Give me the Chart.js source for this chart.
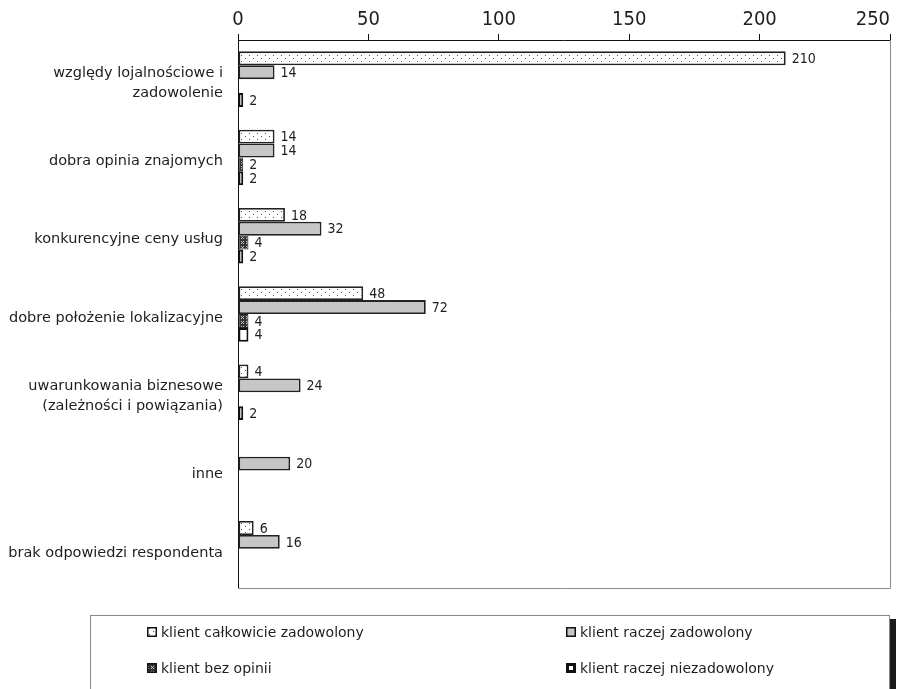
<!DOCTYPE html>
<html lang="pl">
<head>
<meta charset="utf-8">
<title>Powody wyboru</title>
<script src="https://cdn.jsdelivr.net/npm/chart.js@4/dist/chart.umd.min.js"></script>
<style>
  html, body { margin: 0; padding: 0; background: #fff; }
  #wrap { position: relative; width: 911px; height: 689px; }
</style>
</head>
<body>
<div id="wrap"><canvas id="chart"></canvas></div>
<script>
// --- dane ---
const kategorie = [
    ['względy lojalnościowe i', 'zadowolenie'],
    'dobra opinia znajomych',
    'konkurencyjne ceny usług',
    'dobre położenie lokalizacyjne',
    ['uwarunkowania biznesowe', '(zależności i powiązania)'],
    'inne',
    'brak odpowiedzi respondenta'
];
const serie = [
    'klient całkowicie zadowolony',
    'klient raczej zadowolony',
    'klient bez opinii',
    'klient raczej niezadowolony'
];
// null = brak słupka
const calkowicieZadowolony = [210, 14, 18, 48, 4, null, 6];
const raczejZadowolony = [14, 14, 32, 72, 24, 20, 16];
const bezOpinii = [null, 2, 4, 4, null, null, null];
const raczejNiezadowolony = [2, 2, 2, 4, 2, null, null];
const osX = [0, 50, 100, 150, 200, 250];

const FONT_C = '"DejaVu Sans Condensed", "DejaVu Sans", sans-serif';
const FONT = '"DejaVu Sans", sans-serif';
const TEXT = '#1e1e1e';

// wzory wypełnienia
function makePattern(w, h, draw) {
    const c = document.createElement('canvas');
    c.width = w; c.height = h;
    const g = c.getContext('2d');
    draw(g);
    return g.createPattern(c, 'repeat');
}
const wzorKropki = makePattern(8, 6, g => {
    g.fillStyle = '#fff'; g.fillRect(0, 0, 8, 6);
    g.fillStyle = '#555';
    g.fillRect(1, 1, 1, 1);
    g.fillRect(5, 4, 1, 1);
});
const wzorKrzyzyk = makePattern(5, 5, g => {
    g.fillStyle = '#333'; g.fillRect(0, 0, 5, 5);
    g.fillStyle = '#c8c8c8';
    g.fillRect(1, 1, 1, 1); g.fillRect(3, 3, 1, 1);
    g.fillRect(1, 3, 1, 1); g.fillRect(3, 1, 1, 1);
    g.fillRect(2, 2, 1, 1);
});

const kolory = [wzorKropki, '#c6c6c6', wzorKrzyzyk, '#ffffff'];
const obramowania = ['#222', '#222', '#222', '#111'];
const grubosci = [1.8, 1.8, 1, 2];
const wartosci = [calkowicieZadowolony, raczejZadowolony, bezOpinii, raczejNiezadowolony];

// etykiety wartości przy słupkach
const etykietyPlugin = {
    id: 'etykiety',
    afterDatasetsDraw(chart) {
        const ctx = chart.ctx;
        ctx.save();
        ctx.font = '14px ' + FONT_C;
        ctx.fillStyle = TEXT;
        ctx.textAlign = 'left';
        ctx.textBaseline = 'middle';
        chart.data.datasets.forEach((ds, di) => {
            const meta = chart.getDatasetMeta(di);
            meta.data.forEach((el, i) => {
                const v = ds.data[i];
                if (v === null || v === undefined) return;
                ctx.fillText(String(v), el.x + 6, el.y + 1);
            });
        });
        ctx.restore();
    }
};

// ramka obszaru wykresu (prawa i dolna krawędź)
const ramkaPlugin = {
    id: 'ramka',
    beforeDatasetsDraw(chart) {
        const { ctx, chartArea: a } = chart;
        ctx.save();
        ctx.strokeStyle = '#8a8a8a';
        ctx.lineWidth = 1;
        ctx.beginPath();
        ctx.moveTo(a.left, a.bottom + 0.5);
        ctx.lineTo(a.right + 0.5, a.bottom + 0.5);
        ctx.lineTo(a.right + 0.5, a.top);
        ctx.stroke();
        ctx.restore();
    }
};

// legenda w dwóch kolumnach
const legendaPlugin = {
    id: 'legenda',
    afterDraw(chart) {
        const ctx = chart.ctx;
        ctx.save();
        // cień
        ctx.fillStyle = '#1a1a1a';
        ctx.fillRect(890, 619, 6, 80);
        // ramka
        ctx.strokeStyle = '#8a8a8a';
        ctx.lineWidth = 1;
        ctx.strokeRect(90.5, 615.5, 799, 90);
        const poz = [[147, 632], [566, 632], [147, 668], [566, 668]];
        ctx.font = '14px ' + FONT;
        ctx.textBaseline = 'middle';
        ctx.textAlign = 'left';
        chart.data.datasets.forEach((ds, i) => {
            const [x, y] = poz[i];
            ctx.fillStyle = ds.backgroundColor;
            ctx.fillRect(x, y - 5, 10, 10);
            ctx.strokeStyle = '#111';
            ctx.lineWidth = i === 3 ? 3 : 1.5;
            const o = ctx.lineWidth / 2;
            ctx.strokeRect(x + o, y - 5 + o, 10 - 2 * o, 10 - 2 * o);
            ctx.fillStyle = TEXT;
            ctx.fillText(ds.label, x + 14, y + 1);
        });
        ctx.restore();
    }
};

new Chart(document.getElementById('chart'), {
    type: 'bar',
    data: {
        labels: kategorie,
        datasets: serie.map((nazwa, i) => ({
            label: nazwa,
            data: wartosci[i],
            backgroundColor: kolory[i],
            borderColor: obramowania[i],
            borderWidth: grubosci[i],
            borderSkipped: false,
            categoryPercentage: 0.71,
            barPercentage: 1
        }))
    },
    options: {
        indexAxis: 'y',
        responsive: true,
        maintainAspectRatio: false,
        animation: false,
        layout: { padding: { left: 0, top: 0, right: 21, bottom: 101 } },
        scales: {
            x: {
                position: 'top',
                min: 0, max: 250,
                afterBuildTicks: (s) => { s.ticks = osX.map(v => ({ value: v })); },
                afterFit: (s) => { s.height = 40; s.paddingLeft = 0; s.paddingRight = 0; },
                grid: { drawOnChartArea: false, drawTicks: true, tickLength: 6, color: '#111' },
                border: { display: true, color: '#111', width: 1 },
                ticks: {
                    font: { family: FONT_C, size: 20 }, color: TEXT, padding: 2, maxRotation: 0,
                    // ostatnia etykieta dosunięta do krawędzi, jak w oryginale
                    callback: (v) => v === 250 ? '250      ' : String(v)
                }
            },
            y: {
                afterFit: (s) => { s.width = 238; },
                grid: { display: false },
                border: { display: true, color: '#111', width: 1 },
                ticks: { font: { family: FONT, size: 14.5, lineHeight: 1.33 }, color: TEXT, padding: 7, labelOffset: 4 }
            }
        },
        plugins: {
            legend: { display: false },
            tooltip: { enabled: false }
        }
    },
    plugins: [etykietyPlugin, ramkaPlugin, legendaPlugin]
});
</script>
</body>
</html>
